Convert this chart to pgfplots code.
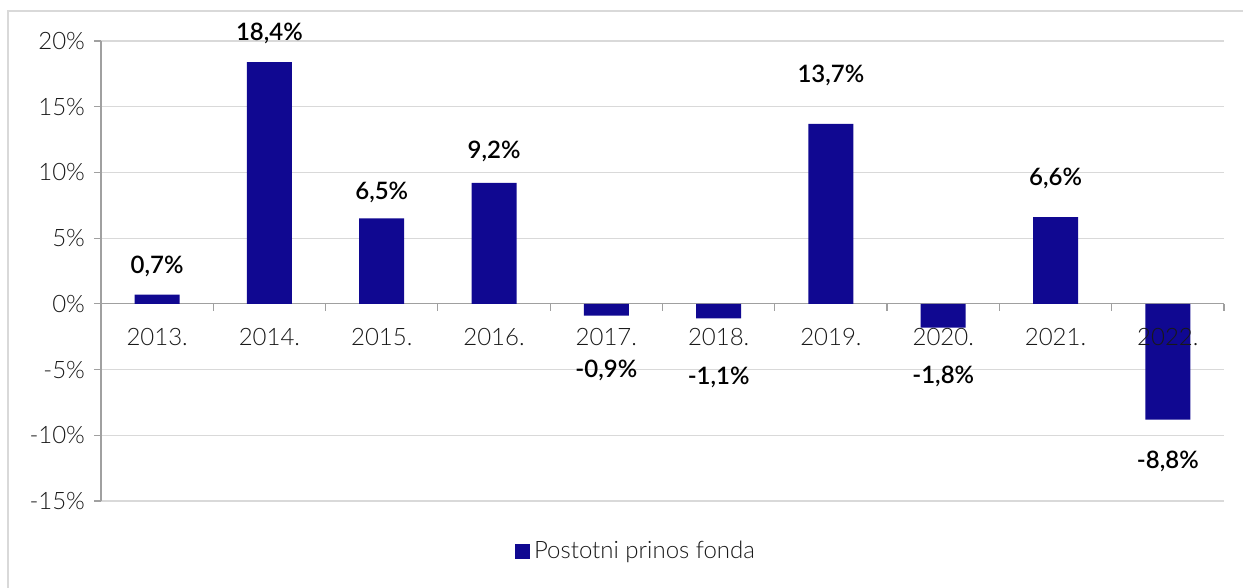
\documentclass[border=0pt]{standalone}
\usepackage{pgfplots}
\pgfplotsset{compat=1.18}
\usepackage{fontspec}
\setmainfont{Lato}
\newfontfamily\lightfont{Lato Light}
\newfontfamily\semifont{Lato Semibold}
\definecolor{barblue}{RGB}{16,8,145}
\definecolor{gridgray}{RGB}{217,217,217}
\definecolor{axgray}{RGB}{160,160,160}
\newcommand{\fs}{\fontsize{12}{14}\selectfont}
\begin{document}
\begin{tikzpicture}
\useasboundingbox (0pt,0pt) rectangle (621.5pt,-294pt);
\draw[gridgray, line width=0.7pt] (4pt,-294pt) -- (4pt,-5.5pt) -- (621.5pt,-5.5pt);
\begin{axis}[
  at={(50.5pt,-250.5pt)}, anchor=south west,
  scale only axis, width=561.5pt, height=230pt,
  xmin=-0.5, xmax=9.5, ymin=-15, ymax=20,
  axis y line*=left, axis x line*=middle,
  axis line style={axgray, line width=0.6pt, -},
  ytick={-15,-10,-5,0,5,10,15,20},
  yticklabels={-15\%,-10\%,-5\%,0\%,5\%,10\%,15\%,20\%},
  xtick={-0.5,0.5,...,9.5},
  xticklabels={},
  tick align=outside, major tick length=3.5pt,
  tick style={axgray, line width=0.6pt},
  ymajorgrids, grid style={gridgray, line width=0.6pt},
  ticklabel style={font=\lightfont\fs, text=black!90},
  yticklabel style={xshift=-1pt},
  legend style={at={(rel axis cs:0.4773,-0.1087)}, anchor=center, draw=none,
    font=\lightfont\fs, text=black!90},
  legend image code/.code={\fill[barblue] (0pt,-3.75pt) rectangle (7.5pt,3.75pt);},
  clip=false,
]
\addplot[ybar, bar width=22.5pt, fill=barblue, draw=none] coordinates {
  (0,0.7) (1,18.4) (2,6.5) (3,9.2) (4,-0.9) (5,-1.1) (6,13.7) (7,-1.8) (8,6.6) (9,-8.8)};
\addlegendentry{Postotni prinos fonda}
\begin{scope}[every node/.style={font=\lightfont\fs, text=black!90, yshift=-16.75pt}]
\node at (axis cs:0,0) {2013.};
\node at (axis cs:1,0) {2014.};
\node at (axis cs:2,0) {2015.};
\node at (axis cs:3,0) {2016.};
\node at (axis cs:4,0) {2017.};
\node at (axis cs:5,0) {2018.};
\node at (axis cs:6,0) {2019.};
\node at (axis cs:7,0) {2020.};
\node at (axis cs:8,0) {2021.};
\node at (axis cs:9,0) {2022.};
\end{scope}
\begin{scope}[every node/.style={font=\semifont\fs, text=black}]
\node at (axis cs:0,2.84) {0,7\%};
\node at (axis cs:1,20.6) {18,4\%};
\node at (axis cs:2,8.44) {6,5\%};
\node at (axis cs:3,11.58) {9,2\%};
\node at (axis cs:4,-5.09) {-0,9\%};
\node at (axis cs:5,-5.57) {-1,1\%};
\node at (axis cs:6,17.41) {13,7\%};
\node at (axis cs:7,-5.53) {-1,8\%};
\node at (axis cs:8,9.58) {6,6\%};
\node at (axis cs:9,-11.99) {-8,8\%};
\end{scope}
\end{axis}
\end{tikzpicture}
\end{document}
